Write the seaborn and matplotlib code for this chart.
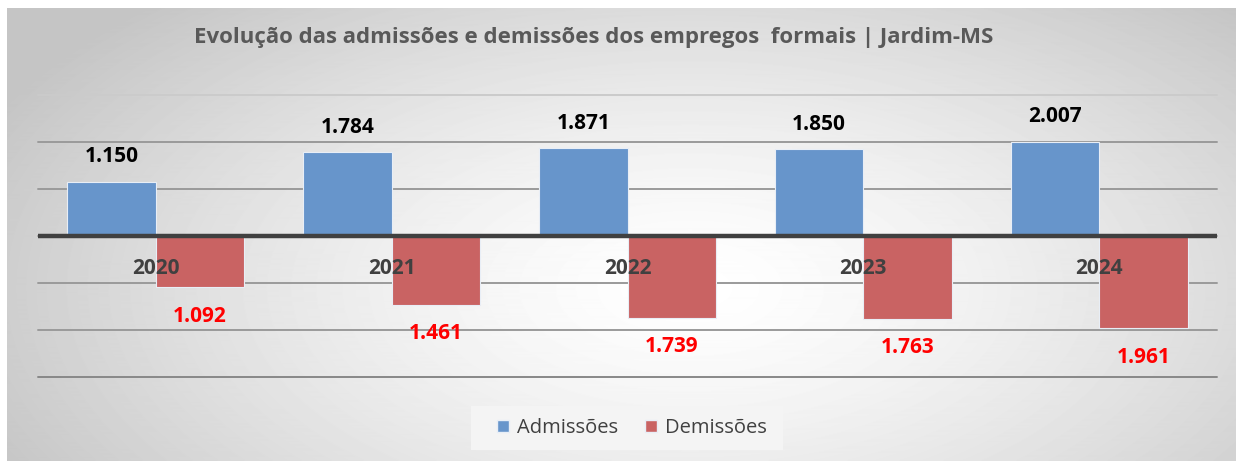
import numpy as np
import pandas as pd
import matplotlib.pyplot as plt
import seaborn as sns
from matplotlib.patches import Patch, Rectangle

anos = ['2020', '2021', '2022', '2023', '2024']
admissoes = [1150, 1784, 1871, 1850, 2007]
demissoes = [1092, 1461, 1739, 1763, 1961]
series = ['Admissões', 'Demissões']

titulo = 'Evolução das admissões e demissões dos empregos  formais | Jardim-MS'
cor_adm = '#6795CB'
cor_dem = '#C96363'

# demissões ficam negativas no gráfico
df = pd.DataFrame({
    'ano': anos * 2,
    'tipo': [series[0]] * len(anos) + [series[1]] * len(anos),
    'valor': admissoes + [-v for v in demissoes],
})

sns.set_style('white')
plt.rcParams['font.family'] = ['Open Sans', 'DejaVu Sans']

W, H = 1236, 461
fig = plt.figure(figsize=(W / 100, H / 100), dpi=100)
fig.patch.set_facecolor('white')

# fundo com degradê radial (claro no centro, cinza nas bordas)
bg = fig.add_axes([7 / W, 0, 1 - 7 / W, 1 - 8 / H], zorder=0)
h, w = 453, 1229
yy, xx = np.mgrid[0:h, 0:w]
r = np.sqrt(((xx - 683) / 650) ** 2 + ((yy - 280) / 330) ** 2)
img = 1 - 0.23 * np.clip(r / 1.2, 0, 1) ** 1.4
bg.imshow(img, cmap='gray', vmin=0, vmax=1, aspect='auto', extent=[0, 1, 0, 1])
bg.axis('off')

ax = fig.add_axes([38 / W, 84 / H, 1179 / W, 282 / H], zorder=1)
ax.patch.set_alpha(0)

sns.barplot(data=df, x='ano', y='valor', hue='tipo', order=anos, hue_order=series,
            palette=[cor_adm, cor_dem], width=0.75, errorbar=None, legend=False,
            saturation=1, edgecolor='#e8eef6', linewidth=0.8, zorder=3, ax=ax)

ax.set_xlim(-0.5, len(anos) - 0.5)
ax.set_ylim(-3000, 3000)
ax.set_yticks(range(-3000, 3001, 1000))
ax.set_yticklabels([])
ax.set_xticks([])
ax.set_xlabel('')
ax.set_ylabel('')
ax.tick_params(length=0)
ax.grid(axis='y', color='#9a9a9a', lw=1.4)
ax.set_axisbelow(True)
for gl in ax.get_ygridlines():
    gl.set_clip_on(False)
ax.get_ygridlines()[0].set_color('#888888')
ax.get_ygridlines()[-1].set_color('#cbcbcb')
for s in ax.spines.values():
    s.set_visible(False)
ax.axhline(0, color='#404040', lw=3.2, zorder=4)

# rótulos dos valores
fmt = lambda v: f'{abs(v):,}'.replace(',', '.')
for cont, cor, dy in zip(ax.containers, ['black', '#FF0000'], [25, -29]):
    for bar in cont:
        val = bar.get_height()
        ax.annotate(fmt(int(round(val))), (bar.get_x() + bar.get_width() / 2, val),
                    xytext=(0, dy), textcoords='offset pixels', ha='center', va='center',
                    fontsize=15, fontweight='bold', color=cor, zorder=5)

# anos logo abaixo da linha do zero
for i, ano in enumerate(anos):
    ax.annotate(ano, (i, 0), xytext=(0, -32), textcoords='offset pixels',
                ha='center', va='center', fontsize=15, fontweight='bold',
                color='#404040', zorder=5)

fig.text(594 / W, 1 - 38 / H, titulo, ha='center', va='center',
         fontsize=16, fontweight='bold', color='#595959')

# caixa da legenda
fig.patches.append(Rectangle((471 / W, 1 - 450 / H), 312 / W, 44 / H,
                             transform=fig.transFigure, facecolor='#f4f4f4',
                             edgecolor='none', zorder=2))
handles = [Patch(facecolor=cor_adm, edgecolor='#e8eef6', label=series[0]),
           Patch(facecolor=cor_dem, edgecolor='#e8eef6', label=series[1])]
leg = fig.legend(handles=handles, loc='center', bbox_to_anchor=(632 / W, 1 - 428 / H),
                 ncol=2, frameon=False, fontsize=14.5, handlelength=0.6, handleheight=0.6,
                 handletextpad=0.4, columnspacing=1.35)
leg.set_zorder(3)
for t in leg.get_texts():
    t.set_color('#404040')

fig.savefig('out.png', dpi=100)
